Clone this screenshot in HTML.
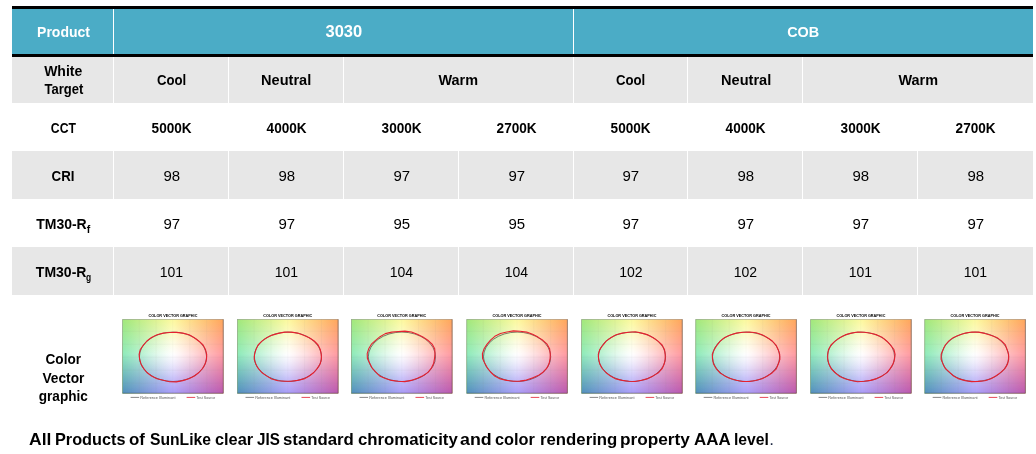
<!DOCTYPE html>
<html lang="en"><head><meta charset="utf-8"><title>SunLike product table</title>
<style>
html,body{margin:0;padding:0;background:#fff}
body{width:1036px;height:454px;position:relative;overflow:hidden;font-family:"Liberation Sans",sans-serif;color:#000}
.b{position:absolute}
.t{position:absolute;white-space:nowrap;text-align:center;line-height:20px;height:20px;font-size:14px}
.t span.s{display:inline-block;transform-origin:50% 50%}
.bd{font-weight:bold}
.ft{position:absolute;left:0;width:1036px;height:20px;line-height:20px;font-size:17px;font-weight:bold;white-space:pre}
.ft span{position:absolute;top:0;display:block;transform-origin:0 50%}
.ft .dot{font-weight:normal;color:#1f2a44}
.w{color:#fff}
sub{font-size:10.5px;vertical-align:baseline;position:relative;top:3.8px;line-height:0}
sub.g{display:inline-block;transform:scaleX(.8);transform-origin:0 50%;margin-right:-1.3px;line-height:normal;vertical-align:baseline;top:3.8px}
svg{position:absolute;overflow:visible}
.ct{font-family:"Liberation Sans",sans-serif;font-weight:bold;font-size:4.1px;fill:#000}
.cl{font-family:"Liberation Sans",sans-serif;font-size:4.3px;fill:#555}

</style></head><body>
<div class="b" style="left:12px;top:6px;width:1021px;height:3px;background:#000"></div>
<div class="b" style="left:12px;top:9px;width:1021px;height:45px;background:#4bacc6"></div>
<div class="b" style="left:12px;top:54px;width:1021px;height:3px;background:#000"></div>
<div class="b" style="left:12px;top:57px;width:1021px;height:46px;background:#e7e7e7"></div>
<div class="b" style="left:12px;top:151px;width:1021px;height:48px;background:#e7e7e7"></div>
<div class="b" style="left:12px;top:247px;width:1021px;height:48px;background:#e7e7e7"></div>
<div class="b" style="left:113px;top:9px;width:1px;height:45px;background:#fff"></div>
<div class="b" style="left:573px;top:9px;width:1px;height:45px;background:#fff"></div>
<div class="b" style="left:113px;top:57px;width:1px;height:46px;background:#fff"></div>
<div class="b" style="left:113px;top:151px;width:1px;height:48px;background:#fff"></div>
<div class="b" style="left:113px;top:247px;width:1px;height:48px;background:#fff"></div>
<div class="b" style="left:228px;top:57px;width:1px;height:46px;background:#fff"></div>
<div class="b" style="left:228px;top:151px;width:1px;height:48px;background:#fff"></div>
<div class="b" style="left:228px;top:247px;width:1px;height:48px;background:#fff"></div>
<div class="b" style="left:343px;top:57px;width:1px;height:46px;background:#fff"></div>
<div class="b" style="left:343px;top:151px;width:1px;height:48px;background:#fff"></div>
<div class="b" style="left:343px;top:247px;width:1px;height:48px;background:#fff"></div>
<div class="b" style="left:458px;top:151px;width:1px;height:48px;background:#fff"></div>
<div class="b" style="left:458px;top:247px;width:1px;height:48px;background:#fff"></div>
<div class="b" style="left:573px;top:57px;width:1px;height:46px;background:#fff"></div>
<div class="b" style="left:573px;top:151px;width:1px;height:48px;background:#fff"></div>
<div class="b" style="left:573px;top:247px;width:1px;height:48px;background:#fff"></div>
<div class="b" style="left:687px;top:57px;width:1px;height:46px;background:#fff"></div>
<div class="b" style="left:687px;top:151px;width:1px;height:48px;background:#fff"></div>
<div class="b" style="left:687px;top:247px;width:1px;height:48px;background:#fff"></div>
<div class="b" style="left:802px;top:57px;width:1px;height:46px;background:#fff"></div>
<div class="b" style="left:802px;top:151px;width:1px;height:48px;background:#fff"></div>
<div class="b" style="left:802px;top:247px;width:1px;height:48px;background:#fff"></div>
<div class="b" style="left:917px;top:151px;width:1px;height:48px;background:#fff"></div>
<div class="b" style="left:917px;top:247px;width:1px;height:48px;background:#fff"></div>
<div class="t bd w" style="left:-86.50px;top:21.95px;width:300px;">Product</div>
<div class="t bd w" style="left:193.90px;top:21.66px;width:300px;font-size:16px;"><span class="s" style="transform:scaleX(1.03)">3030</span></div>
<div class="t bd w" style="left:652.90px;top:21.73px;width:300px;font-size:15.5px;"><span class="s" style="transform:scaleX(0.93)">COB</span></div>
<div class="t bd" style="left:-86.80px;top:61.35px;width:300px;">White</div>
<div class="t bd" style="left:-86.30px;top:78.95px;width:300px;"><span class="s" style="transform:scaleX(0.93)">Target</span></div>
<div class="t bd" style="left:21.40px;top:69.95px;width:300px;"><span class="s" style="transform:scaleX(0.94)">Cool</span></div>
<div class="t bd" style="left:136.40px;top:69.95px;width:300px;"><span class="s" style="transform:scaleX(1.04)">Neutral</span></div>
<div class="t bd" style="left:308.40px;top:69.95px;width:300px;"><span class="s" style="transform:scaleX(1.03)">Warm</span></div>
<div class="t bd" style="left:480.90px;top:69.95px;width:300px;"><span class="s" style="transform:scaleX(0.94)">Cool</span></div>
<div class="t bd" style="left:595.90px;top:69.95px;width:300px;"><span class="s" style="transform:scaleX(1.04)">Neutral</span></div>
<div class="t bd" style="left:767.90px;top:69.95px;width:300px;"><span class="s" style="transform:scaleX(1.03)">Warm</span></div>
<div class="t bd" style="left:-86.50px;top:118.15px;width:300px;"><span class="s" style="transform:scaleX(0.87)">CCT</span></div>
<div class="t bd" style="left:21.20px;top:118.15px;width:300px;"><span class="s" style="transform:scaleX(0.97)">5000K</span></div>
<div class="t bd" style="left:136.20px;top:118.15px;width:300px;"><span class="s" style="transform:scaleX(0.97)">4000K</span></div>
<div class="t bd" style="left:251.20px;top:118.15px;width:300px;"><span class="s" style="transform:scaleX(0.97)">3000K</span></div>
<div class="t bd" style="left:366.20px;top:118.15px;width:300px;"><span class="s" style="transform:scaleX(0.97)">2700K</span></div>
<div class="t bd" style="left:480.70px;top:118.15px;width:300px;"><span class="s" style="transform:scaleX(0.97)">5000K</span></div>
<div class="t bd" style="left:595.20px;top:118.15px;width:300px;"><span class="s" style="transform:scaleX(0.97)">4000K</span></div>
<div class="t bd" style="left:710.20px;top:118.15px;width:300px;"><span class="s" style="transform:scaleX(0.97)">3000K</span></div>
<div class="t bd" style="left:825.20px;top:118.15px;width:300px;"><span class="s" style="transform:scaleX(0.97)">2700K</span></div>
<div class="t bd" style="left:-86.60px;top:166.35px;width:300px;"><span class="s" style="transform:scaleX(0.95)">CRI</span></div>
<div class="t " style="left:21.40px;top:166.45px;width:300px;"><span class="s" style="transform:scaleX(1.07)">98</span></div>
<div class="t " style="left:136.40px;top:166.45px;width:300px;"><span class="s" style="transform:scaleX(1.07)">98</span></div>
<div class="t " style="left:251.40px;top:166.45px;width:300px;"><span class="s" style="transform:scaleX(1.07)">97</span></div>
<div class="t " style="left:366.40px;top:166.45px;width:300px;"><span class="s" style="transform:scaleX(1.07)">97</span></div>
<div class="t " style="left:480.90px;top:166.45px;width:300px;"><span class="s" style="transform:scaleX(1.07)">97</span></div>
<div class="t " style="left:595.40px;top:166.45px;width:300px;"><span class="s" style="transform:scaleX(1.07)">98</span></div>
<div class="t " style="left:710.40px;top:166.45px;width:300px;"><span class="s" style="transform:scaleX(1.07)">98</span></div>
<div class="t " style="left:825.40px;top:166.45px;width:300px;"><span class="s" style="transform:scaleX(1.07)">98</span></div>
<div class="t bd" style="left:-86.80px;top:214.25px;width:300px;">TM30-R<sub>f</sub></div>
<div class="t " style="left:21.40px;top:214.35px;width:300px;"><span class="s" style="transform:scaleX(1.07)">97</span></div>
<div class="t " style="left:136.40px;top:214.35px;width:300px;"><span class="s" style="transform:scaleX(1.07)">97</span></div>
<div class="t " style="left:251.40px;top:214.35px;width:300px;"><span class="s" style="transform:scaleX(1.07)">95</span></div>
<div class="t " style="left:366.40px;top:214.35px;width:300px;"><span class="s" style="transform:scaleX(1.07)">95</span></div>
<div class="t " style="left:480.90px;top:214.35px;width:300px;"><span class="s" style="transform:scaleX(1.07)">97</span></div>
<div class="t " style="left:595.40px;top:214.35px;width:300px;"><span class="s" style="transform:scaleX(1.07)">97</span></div>
<div class="t " style="left:710.40px;top:214.35px;width:300px;"><span class="s" style="transform:scaleX(1.07)">97</span></div>
<div class="t " style="left:825.40px;top:214.35px;width:300px;"><span class="s" style="transform:scaleX(1.07)">97</span></div>
<div class="t bd" style="left:-86.30px;top:262.05px;width:300px;">TM30-R<sub class="g">g</sub></div>
<div class="t " style="left:21.40px;top:262.15px;width:300px;">101</div>
<div class="t " style="left:136.40px;top:262.15px;width:300px;">101</div>
<div class="t " style="left:251.40px;top:262.15px;width:300px;">104</div>
<div class="t " style="left:366.40px;top:262.15px;width:300px;">104</div>
<div class="t " style="left:480.90px;top:262.15px;width:300px;">102</div>
<div class="t " style="left:595.40px;top:262.15px;width:300px;">102</div>
<div class="t " style="left:710.40px;top:262.15px;width:300px;">101</div>
<div class="t " style="left:825.40px;top:262.15px;width:300px;">101</div>
<div class="t bd" style="left:-86.50px;top:349.05px;width:300px;"><span class="s" style="transform:scaleX(0.97)">Color</span></div>
<div class="t bd" style="left:-86.60px;top:367.55px;width:300px;"><span class="s" style="transform:scaleX(0.98)">Vector</span></div>
<div class="t bd" style="left:-86.50px;top:386.05px;width:300px;"><span class="s" style="transform:scaleX(0.97)">graphic</span></div>
<div class="ft" style="top:429.81px">
<span style="left:28.90px;transform:scaleX(1.0303)">All </span>
<span style="left:54.55px;transform:scaleX(0.9570)">Products </span>
<span style="left:128.95px;transform:scaleX(0.9949)">of </span>
<span style="left:149.75px;transform:scaleX(0.9216)">SunLike </span>
<span style="left:214.85px;transform:scaleX(0.9607)">clear </span>
<span style="left:257.00px;transform:scaleX(0.8937)">JIS </span>
<span style="left:283.45px;transform:scaleX(0.9872)">standard </span>
<span style="left:357.55px;transform:scaleX(0.9871)">chromaticity </span>
<span style="left:460.25px;transform:scaleX(1.0465)">and </span>
<span style="left:494.70px;transform:scaleX(0.9601)">color </span>
<span style="left:539.75px;transform:scaleX(0.9856)">rendering </span>
<span style="left:620.25px;transform:scaleX(1.0133)">property </span>
<span style="left:693.70px;transform:scaleX(0.9945)">AAA </span>
<span style="left:734.35px;transform:scaleX(0.9250)">level </span>
<span class="dot" style="left:769.3px">.</span>
</div>
<svg width="0" height="0" style="left:0;top:0"><defs>
<linearGradient id="gT" x1="0" x2="1" y1="0" y2="0"><stop offset="0" stop-color="#a2e87a"/><stop offset="0.5" stop-color="#fdfa9e"/><stop offset="1" stop-color="#ffa65a"/></linearGradient>
<linearGradient id="gM" x1="0" x2="1" y1="0" y2="0"><stop offset="0" stop-color="#8eeaba"/><stop offset="0.5" stop-color="#ffffff"/><stop offset="1" stop-color="#ff9aa0"/></linearGradient>
<linearGradient id="gB" x1="0" x2="1" y1="0" y2="0"><stop offset="0" stop-color="#508fbb"/><stop offset="0.5" stop-color="#a89cf8"/><stop offset="1" stop-color="#bc57ad"/></linearGradient>
<linearGradient id="aM" x1="0" x2="0" y1="0" y2="1"><stop offset="0" stop-color="#fff" stop-opacity="0"/><stop offset="0.47" stop-color="#fff" stop-opacity="1"/><stop offset="1" stop-color="#fff" stop-opacity="1"/></linearGradient>
<linearGradient id="aB" x1="0" x2="0" y1="0" y2="1"><stop offset="0" stop-color="#fff" stop-opacity="0"/><stop offset="0.47" stop-color="#fff" stop-opacity="0"/><stop offset="1" stop-color="#fff" stop-opacity="1"/></linearGradient>
<radialGradient id="gW" cx="0.5" cy="0.5" r="0.5"><stop offset="0" stop-color="#fff" stop-opacity="0.35"/><stop offset="0.5" stop-color="#fff" stop-opacity="0.15"/><stop offset="1" stop-color="#fff" stop-opacity="0"/></radialGradient>
<mask id="mM" maskContentUnits="objectBoundingBox"><rect x="0" y="0" width="1" height="1" fill="url(#aM)"/></mask>
<mask id="mB" maskContentUnits="objectBoundingBox"><rect x="0" y="0" width="1" height="1" fill="url(#aB)"/></mask>
</defs></svg>
<svg style="left:113px;top:309px" width="116" height="96" viewBox="0 0 116 96"><g transform="translate(0.4,0)">
<text class="ct" x="59.5" y="7.5" text-anchor="middle" textLength="49" lengthAdjust="spacingAndGlyphs">COLOR VECTOR GRAPHIC</text>
<rect x="9" y="10.3" width="101.1" height="74.2" fill="url(#gT)"/>
<rect x="9" y="10.3" width="101.1" height="74.2" fill="url(#gM)" mask="url(#mM)"/>
<rect x="9" y="10.3" width="101.1" height="74.2" fill="url(#gB)" mask="url(#mB)"/>
<ellipse cx="59.5" cy="45.9" rx="30.3" ry="23.0" fill="url(#gW)"/>
<path d="M25.8,10.3V84.5M42.7,10.3V84.5M59.5,10.3V84.5M76.4,10.3V84.5M93.2,10.3V84.5M9,22.2H110.1M9,35.2H110.1M9,48.2H110.1M9,61.2H110.1M9,74.2H110.1" stroke="#808080" stroke-opacity="0.12" stroke-width="0.5" fill="none"/>
<rect x="9.3" y="10.600000000000001" width="100.5" height="73.60000000000001" fill="none" stroke="#666" stroke-opacity="0.6" stroke-width="0.6"/>
<path d="M9,84.2H109.8V10.3" fill="none" stroke="#3a3a4a" stroke-opacity="0.5" stroke-width="0.6"/>
<ellipse cx="59.6" cy="47.8" rx="33.6" ry="24.7" fill="none" stroke="#2b1a20" stroke-opacity="0.8" stroke-width="0.7"/>
<path d="M93.1,50.3 L91.7,55.0 L89.2,59.5 L85.5,63.5 L81.0,67.0 L75.4,69.7 L69.3,71.6 L62.9,72.9 L56.2,72.7 L49.9,71.2 L43.6,69.7 L38.1,67.0 L33.5,63.5 L30.1,59.3 L27.6,54.9 L26.2,50.2 L25.7,45.3 L26.9,40.5 L30.0,36.1 L33.5,32.0 L38.1,28.5 L43.7,25.8 L49.9,24.1 L56.4,23.5 L62.9,23.4 L69.4,24.1 L75.7,25.7 L80.9,28.8 L85.6,32.2 L89.7,36.0 L92.1,40.6 L93.3,45.4Z" fill="none" stroke="#e6202f" stroke-width="1.1" stroke-linejoin="round"/>
<path d="M17.2,88.4H25.8" stroke="#555" stroke-width="0.7"/>
<text class="cl" x="26.9" y="89.9" textLength="35.2" lengthAdjust="spacingAndGlyphs">Reference Illuminant</text>
<path d="M73.2,88.4H81.8" stroke="#e01b2b" stroke-width="0.8"/>
<text class="cl" x="82.9" y="89.9" textLength="18.9" lengthAdjust="spacingAndGlyphs">Test Source</text>
</g></svg>
<svg style="left:228px;top:309px" width="116" height="96" viewBox="0 0 116 96"><g transform="translate(0.3,0)">
<text class="ct" x="59.5" y="7.5" text-anchor="middle" textLength="49" lengthAdjust="spacingAndGlyphs">COLOR VECTOR GRAPHIC</text>
<rect x="9" y="10.3" width="101.1" height="74.2" fill="url(#gT)"/>
<rect x="9" y="10.3" width="101.1" height="74.2" fill="url(#gM)" mask="url(#mM)"/>
<rect x="9" y="10.3" width="101.1" height="74.2" fill="url(#gB)" mask="url(#mB)"/>
<ellipse cx="59.5" cy="45.9" rx="30.3" ry="23.0" fill="url(#gW)"/>
<path d="M25.8,10.3V84.5M42.7,10.3V84.5M59.5,10.3V84.5M76.4,10.3V84.5M93.2,10.3V84.5M9,22.2H110.1M9,35.2H110.1M9,48.2H110.1M9,61.2H110.1M9,74.2H110.1" stroke="#808080" stroke-opacity="0.12" stroke-width="0.5" fill="none"/>
<rect x="9.3" y="10.600000000000001" width="100.5" height="73.60000000000001" fill="none" stroke="#666" stroke-opacity="0.6" stroke-width="0.6"/>
<path d="M9,84.2H109.8V10.3" fill="none" stroke="#3a3a4a" stroke-opacity="0.5" stroke-width="0.6"/>
<ellipse cx="59.6" cy="47.8" rx="33.6" ry="24.7" fill="none" stroke="#2b1a20" stroke-opacity="0.8" stroke-width="0.7"/>
<path d="M93.1,50.3 L91.8,55.0 L89.0,59.4 L85.5,63.5 L81.0,67.0 L75.6,69.9 L69.3,71.4 L62.8,72.3 L56.3,72.2 L49.7,71.8 L43.4,70.0 L38.3,66.9 L33.5,63.5 L29.9,59.4 L27.4,54.9 L25.9,50.2 L26.2,45.3 L27.6,40.6 L29.8,36.0 L33.6,32.1 L38.4,28.7 L43.9,26.1 L50.0,24.4 L56.4,23.1 L63.0,23.1 L69.5,24.1 L75.4,26.2 L81.0,28.7 L85.9,32.0 L89.8,36.0 L92.0,40.6 L93.0,45.4Z" fill="none" stroke="#e6202f" stroke-width="1.1" stroke-linejoin="round"/>
<path d="M17.2,88.4H25.8" stroke="#555" stroke-width="0.7"/>
<text class="cl" x="26.9" y="89.9" textLength="35.2" lengthAdjust="spacingAndGlyphs">Reference Illuminant</text>
<path d="M73.2,88.4H81.8" stroke="#e01b2b" stroke-width="0.8"/>
<text class="cl" x="82.9" y="89.9" textLength="18.9" lengthAdjust="spacingAndGlyphs">Test Source</text>
</g></svg>
<svg style="left:342px;top:309px" width="116" height="96" viewBox="0 0 116 96"><g transform="translate(0.3,0)">
<text class="ct" x="59.5" y="7.5" text-anchor="middle" textLength="49" lengthAdjust="spacingAndGlyphs">COLOR VECTOR GRAPHIC</text>
<rect x="9" y="10.3" width="101.1" height="74.2" fill="url(#gT)"/>
<rect x="9" y="10.3" width="101.1" height="74.2" fill="url(#gM)" mask="url(#mM)"/>
<rect x="9" y="10.3" width="101.1" height="74.2" fill="url(#gB)" mask="url(#mB)"/>
<ellipse cx="59.5" cy="45.9" rx="30.3" ry="23.0" fill="url(#gW)"/>
<path d="M25.8,10.3V84.5M42.7,10.3V84.5M59.5,10.3V84.5M76.4,10.3V84.5M93.2,10.3V84.5M9,22.2H110.1M9,35.2H110.1M9,48.2H110.1M9,61.2H110.1M9,74.2H110.1" stroke="#808080" stroke-opacity="0.12" stroke-width="0.5" fill="none"/>
<rect x="9.3" y="10.600000000000001" width="100.5" height="73.60000000000001" fill="none" stroke="#666" stroke-opacity="0.6" stroke-width="0.6"/>
<path d="M9,84.2H109.8V10.3" fill="none" stroke="#3a3a4a" stroke-opacity="0.5" stroke-width="0.6"/>
<ellipse cx="59.6" cy="47.8" rx="33.6" ry="24.7" fill="none" stroke="#2b1a20" stroke-opacity="0.8" stroke-width="0.7"/>
<path d="M92.2,49.6 L91.3,54.5 L89.1,59.1 L85.7,63.4 L80.7,66.7 L75.1,69.3 L69.0,71.4 L62.5,72.6 L55.8,72.3 L49.2,71.4 L43.1,69.4 L37.3,66.9 L33.3,62.9 L29.7,58.8 L27.4,54.3 L25.1,49.6 L24.9,44.6 L26.4,39.8 L29.1,35.2 L33.3,31.4 L37.7,27.7 L43.0,24.6 L49.4,23.1 L56.0,22.5 L62.6,22.1 L69.2,23.0 L75.0,25.3 L80.6,27.9 L85.5,31.2 L89.8,35.1 L92.4,39.8 L92.7,44.8Z" fill="none" stroke="#e6202f" stroke-width="1.1" stroke-linejoin="round"/>
<path d="M17.2,88.4H25.8" stroke="#555" stroke-width="0.7"/>
<text class="cl" x="26.9" y="89.9" textLength="35.2" lengthAdjust="spacingAndGlyphs">Reference Illuminant</text>
<path d="M73.2,88.4H81.8" stroke="#e01b2b" stroke-width="0.8"/>
<text class="cl" x="82.9" y="89.9" textLength="18.9" lengthAdjust="spacingAndGlyphs">Test Source</text>
</g></svg>
<svg style="left:457px;top:309px" width="116" height="96" viewBox="0 0 116 96"><g transform="translate(0.5,0)">
<text class="ct" x="59.5" y="7.5" text-anchor="middle" textLength="49" lengthAdjust="spacingAndGlyphs">COLOR VECTOR GRAPHIC</text>
<rect x="9" y="10.3" width="101.1" height="74.2" fill="url(#gT)"/>
<rect x="9" y="10.3" width="101.1" height="74.2" fill="url(#gM)" mask="url(#mM)"/>
<rect x="9" y="10.3" width="101.1" height="74.2" fill="url(#gB)" mask="url(#mB)"/>
<ellipse cx="59.5" cy="45.9" rx="30.3" ry="23.0" fill="url(#gW)"/>
<path d="M25.8,10.3V84.5M42.7,10.3V84.5M59.5,10.3V84.5M76.4,10.3V84.5M93.2,10.3V84.5M9,22.2H110.1M9,35.2H110.1M9,48.2H110.1M9,61.2H110.1M9,74.2H110.1" stroke="#808080" stroke-opacity="0.12" stroke-width="0.5" fill="none"/>
<rect x="9.3" y="10.600000000000001" width="100.5" height="73.60000000000001" fill="none" stroke="#666" stroke-opacity="0.6" stroke-width="0.6"/>
<path d="M9,84.2H109.8V10.3" fill="none" stroke="#3a3a4a" stroke-opacity="0.5" stroke-width="0.6"/>
<ellipse cx="59.6" cy="47.8" rx="33.6" ry="24.7" fill="none" stroke="#2b1a20" stroke-opacity="0.8" stroke-width="0.7"/>
<path d="M92.6,49.7 L91.6,54.5 L89.3,59.2 L85.5,63.2 L80.6,66.6 L74.8,68.9 L68.9,71.1 L62.5,72.1 L55.8,72.2 L49.2,71.4 L42.8,69.9 L37.2,67.0 L33.1,63.0 L29.8,58.8 L27.3,54.3 L25.1,49.6 L24.9,44.6 L26.6,39.8 L29.4,35.4 L33.0,31.2 L37.3,27.3 L42.9,24.5 L49.3,23.0 L55.9,21.9 L62.6,22.2 L69.1,23.1 L75.1,25.3 L80.5,28.1 L85.4,31.3 L89.6,35.2 L92.1,39.8 L92.8,44.8Z" fill="none" stroke="#e6202f" stroke-width="1.1" stroke-linejoin="round"/>
<path d="M17.2,88.4H25.8" stroke="#555" stroke-width="0.7"/>
<text class="cl" x="26.9" y="89.9" textLength="35.2" lengthAdjust="spacingAndGlyphs">Reference Illuminant</text>
<path d="M73.2,88.4H81.8" stroke="#e01b2b" stroke-width="0.8"/>
<text class="cl" x="82.9" y="89.9" textLength="18.9" lengthAdjust="spacingAndGlyphs">Test Source</text>
</g></svg>
<svg style="left:572px;top:309px" width="116" height="96" viewBox="0 0 116 96"><g transform="translate(0.4,0)">
<text class="ct" x="59.5" y="7.5" text-anchor="middle" textLength="49" lengthAdjust="spacingAndGlyphs">COLOR VECTOR GRAPHIC</text>
<rect x="9" y="10.3" width="101.1" height="74.2" fill="url(#gT)"/>
<rect x="9" y="10.3" width="101.1" height="74.2" fill="url(#gM)" mask="url(#mM)"/>
<rect x="9" y="10.3" width="101.1" height="74.2" fill="url(#gB)" mask="url(#mB)"/>
<ellipse cx="59.5" cy="45.9" rx="30.3" ry="23.0" fill="url(#gW)"/>
<path d="M25.8,10.3V84.5M42.7,10.3V84.5M59.5,10.3V84.5M76.4,10.3V84.5M93.2,10.3V84.5M9,22.2H110.1M9,35.2H110.1M9,48.2H110.1M9,61.2H110.1M9,74.2H110.1" stroke="#808080" stroke-opacity="0.12" stroke-width="0.5" fill="none"/>
<rect x="9.3" y="10.600000000000001" width="100.5" height="73.60000000000001" fill="none" stroke="#666" stroke-opacity="0.6" stroke-width="0.6"/>
<path d="M9,84.2H109.8V10.3" fill="none" stroke="#3a3a4a" stroke-opacity="0.5" stroke-width="0.6"/>
<ellipse cx="59.6" cy="47.8" rx="33.6" ry="24.7" fill="none" stroke="#2b1a20" stroke-opacity="0.8" stroke-width="0.7"/>
<path d="M92.8,50.3 L91.8,55.0 L89.7,59.7 L85.9,63.8 L80.8,66.9 L75.4,69.6 L69.2,71.3 L62.8,72.5 L56.3,72.2 L49.8,71.4 L43.5,69.9 L38.1,67.1 L33.5,63.5 L29.8,59.5 L27.4,54.9 L26.2,50.2 L25.9,45.3 L27.3,40.6 L30.4,36.3 L33.7,32.1 L38.4,28.7 L43.7,25.8 L49.9,24.1 L56.4,23.2 L63.0,22.8 L69.4,24.1 L75.6,25.9 L80.8,28.8 L85.6,32.1 L89.7,36.0 L92.1,40.6 L92.8,45.4Z" fill="none" stroke="#e6202f" stroke-width="1.1" stroke-linejoin="round"/>
<path d="M17.2,88.4H25.8" stroke="#555" stroke-width="0.7"/>
<text class="cl" x="26.9" y="89.9" textLength="35.2" lengthAdjust="spacingAndGlyphs">Reference Illuminant</text>
<path d="M73.2,88.4H81.8" stroke="#e01b2b" stroke-width="0.8"/>
<text class="cl" x="82.9" y="89.9" textLength="18.9" lengthAdjust="spacingAndGlyphs">Test Source</text>
</g></svg>
<svg style="left:686px;top:309px" width="116" height="96" viewBox="0 0 116 96"><g transform="translate(0.5,0)">
<text class="ct" x="59.5" y="7.5" text-anchor="middle" textLength="49" lengthAdjust="spacingAndGlyphs">COLOR VECTOR GRAPHIC</text>
<rect x="9" y="10.3" width="101.1" height="74.2" fill="url(#gT)"/>
<rect x="9" y="10.3" width="101.1" height="74.2" fill="url(#gM)" mask="url(#mM)"/>
<rect x="9" y="10.3" width="101.1" height="74.2" fill="url(#gB)" mask="url(#mB)"/>
<ellipse cx="59.5" cy="45.9" rx="30.3" ry="23.0" fill="url(#gW)"/>
<path d="M25.8,10.3V84.5M42.7,10.3V84.5M59.5,10.3V84.5M76.4,10.3V84.5M93.2,10.3V84.5M9,22.2H110.1M9,35.2H110.1M9,48.2H110.1M9,61.2H110.1M9,74.2H110.1" stroke="#808080" stroke-opacity="0.12" stroke-width="0.5" fill="none"/>
<rect x="9.3" y="10.600000000000001" width="100.5" height="73.60000000000001" fill="none" stroke="#666" stroke-opacity="0.6" stroke-width="0.6"/>
<path d="M9,84.2H109.8V10.3" fill="none" stroke="#3a3a4a" stroke-opacity="0.5" stroke-width="0.6"/>
<ellipse cx="59.6" cy="47.8" rx="33.6" ry="24.7" fill="none" stroke="#2b1a20" stroke-opacity="0.8" stroke-width="0.7"/>
<path d="M93.4,50.3 L91.8,55.0 L89.8,59.8 L85.8,63.7 L80.9,67.0 L75.5,69.8 L69.3,71.5 L62.8,72.5 L56.2,72.5 L49.9,71.2 L43.8,69.5 L38.2,66.9 L33.3,63.7 L29.6,59.6 L27.0,55.0 L26.0,50.2 L25.8,45.3 L27.7,40.6 L30.4,36.3 L33.7,32.1 L38.2,28.5 L43.8,26.0 L49.9,24.1 L56.4,23.3 L63.0,23.0 L69.6,23.7 L75.6,25.8 L81.0,28.7 L85.8,32.0 L89.5,36.1 L91.7,40.7 L93.2,45.4Z" fill="none" stroke="#e6202f" stroke-width="1.1" stroke-linejoin="round"/>
<path d="M17.2,88.4H25.8" stroke="#555" stroke-width="0.7"/>
<text class="cl" x="26.9" y="89.9" textLength="35.2" lengthAdjust="spacingAndGlyphs">Reference Illuminant</text>
<path d="M73.2,88.4H81.8" stroke="#e01b2b" stroke-width="0.8"/>
<text class="cl" x="82.9" y="89.9" textLength="18.9" lengthAdjust="spacingAndGlyphs">Test Source</text>
</g></svg>
<svg style="left:801px;top:309px" width="116" height="96" viewBox="0 0 116 96"><g transform="translate(0.4,0)">
<text class="ct" x="59.5" y="7.5" text-anchor="middle" textLength="49" lengthAdjust="spacingAndGlyphs">COLOR VECTOR GRAPHIC</text>
<rect x="9" y="10.3" width="101.1" height="74.2" fill="url(#gT)"/>
<rect x="9" y="10.3" width="101.1" height="74.2" fill="url(#gM)" mask="url(#mM)"/>
<rect x="9" y="10.3" width="101.1" height="74.2" fill="url(#gB)" mask="url(#mB)"/>
<ellipse cx="59.5" cy="45.9" rx="30.3" ry="23.0" fill="url(#gW)"/>
<path d="M25.8,10.3V84.5M42.7,10.3V84.5M59.5,10.3V84.5M76.4,10.3V84.5M93.2,10.3V84.5M9,22.2H110.1M9,35.2H110.1M9,48.2H110.1M9,61.2H110.1M9,74.2H110.1" stroke="#808080" stroke-opacity="0.12" stroke-width="0.5" fill="none"/>
<rect x="9.3" y="10.600000000000001" width="100.5" height="73.60000000000001" fill="none" stroke="#666" stroke-opacity="0.6" stroke-width="0.6"/>
<path d="M9,84.2H109.8V10.3" fill="none" stroke="#3a3a4a" stroke-opacity="0.5" stroke-width="0.6"/>
<ellipse cx="59.6" cy="47.8" rx="33.6" ry="24.7" fill="none" stroke="#2b1a20" stroke-opacity="0.8" stroke-width="0.7"/>
<path d="M93.1,50.3 L91.6,55.0 L89.0,59.4 L85.7,63.6 L80.8,66.9 L75.3,69.6 L69.3,71.4 L62.8,72.3 L56.2,72.7 L49.8,71.5 L43.5,69.8 L37.9,67.2 L33.5,63.5 L29.7,59.5 L27.5,54.9 L26.3,50.2 L26.3,45.3 L27.1,40.5 L29.6,36.0 L33.7,32.1 L38.4,28.8 L43.8,25.9 L49.9,24.1 L56.3,23.0 L62.9,23.3 L69.4,24.2 L75.5,25.9 L81.1,28.6 L85.5,32.2 L89.2,36.2 L92.5,40.5 L93.7,45.4Z" fill="none" stroke="#e6202f" stroke-width="1.1" stroke-linejoin="round"/>
<path d="M17.2,88.4H25.8" stroke="#555" stroke-width="0.7"/>
<text class="cl" x="26.9" y="89.9" textLength="35.2" lengthAdjust="spacingAndGlyphs">Reference Illuminant</text>
<path d="M73.2,88.4H81.8" stroke="#e01b2b" stroke-width="0.8"/>
<text class="cl" x="82.9" y="89.9" textLength="18.9" lengthAdjust="spacingAndGlyphs">Test Source</text>
</g></svg>
<svg style="left:915px;top:309px" width="116" height="96" viewBox="0 0 116 96"><g transform="translate(0.5,0)">
<text class="ct" x="59.5" y="7.5" text-anchor="middle" textLength="49" lengthAdjust="spacingAndGlyphs">COLOR VECTOR GRAPHIC</text>
<rect x="9" y="10.3" width="101.1" height="74.2" fill="url(#gT)"/>
<rect x="9" y="10.3" width="101.1" height="74.2" fill="url(#gM)" mask="url(#mM)"/>
<rect x="9" y="10.3" width="101.1" height="74.2" fill="url(#gB)" mask="url(#mB)"/>
<ellipse cx="59.5" cy="45.9" rx="30.3" ry="23.0" fill="url(#gW)"/>
<path d="M25.8,10.3V84.5M42.7,10.3V84.5M59.5,10.3V84.5M76.4,10.3V84.5M93.2,10.3V84.5M9,22.2H110.1M9,35.2H110.1M9,48.2H110.1M9,61.2H110.1M9,74.2H110.1" stroke="#808080" stroke-opacity="0.12" stroke-width="0.5" fill="none"/>
<rect x="9.3" y="10.600000000000001" width="100.5" height="73.60000000000001" fill="none" stroke="#666" stroke-opacity="0.6" stroke-width="0.6"/>
<path d="M9,84.2H109.8V10.3" fill="none" stroke="#3a3a4a" stroke-opacity="0.5" stroke-width="0.6"/>
<ellipse cx="59.6" cy="47.8" rx="33.6" ry="24.7" fill="none" stroke="#2b1a20" stroke-opacity="0.8" stroke-width="0.7"/>
<path d="M93.2,50.3 L92.0,55.1 L89.4,59.6 L85.3,63.4 L80.7,66.8 L75.4,69.7 L69.4,71.7 L62.8,72.4 L56.2,72.6 L49.7,71.6 L43.5,69.9 L38.1,67.0 L33.9,63.2 L29.8,59.5 L27.5,54.9 L25.6,50.2 L25.7,45.3 L27.6,40.6 L29.8,36.0 L33.4,31.9 L38.0,28.4 L43.9,26.1 L49.9,24.1 L56.3,23.0 L63.0,23.1 L69.3,24.4 L75.3,26.3 L81.3,28.4 L86.0,31.9 L89.9,35.9 L91.6,40.7 L93.1,45.4Z" fill="none" stroke="#e6202f" stroke-width="1.1" stroke-linejoin="round"/>
<path d="M17.2,88.4H25.8" stroke="#555" stroke-width="0.7"/>
<text class="cl" x="26.9" y="89.9" textLength="35.2" lengthAdjust="spacingAndGlyphs">Reference Illuminant</text>
<path d="M73.2,88.4H81.8" stroke="#e01b2b" stroke-width="0.8"/>
<text class="cl" x="82.9" y="89.9" textLength="18.9" lengthAdjust="spacingAndGlyphs">Test Source</text>
</g></svg>
</body></html>
